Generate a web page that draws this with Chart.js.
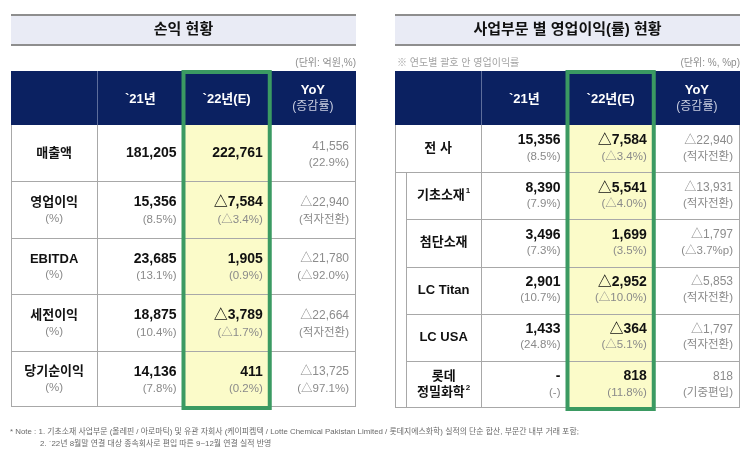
<!DOCTYPE html>
<html>
<head>
<meta charset="utf-8">
<script src="https://cdn.jsdelivr.net/npm/chart.js@4.4.0/dist/chart.umd.min.js"></script>
<style>
  body { margin: 0; background: #fff; width: 745px; height: 452px; overflow: hidden; position: relative; }
  #leftTable { position: absolute; left: 0; top: 0; }
  #rightTable { position: absolute; left: 373px; top: 0; }
</style>
</head>
<body>
<canvas id="leftTable" width="745" height="452"></canvas>
<canvas id="rightTable" width="372" height="420"></canvas>
<script>
// column headers (shared by both tables)
const colKeys = ['label', 'y2021', 'y2022', 'yoy'];
const colHeads = ['', '`21년', '`22년(E)', 'YoY'];
const colHeadSubs = ['', '', '', '(증감률)'];

// 손익 현황 (단위: 억원, %)
const leftRows = ['매출액', '영업이익', 'EBITDA', '세전이익', '당기순이익'];
const leftRowNotes = ['', '(%)', '(%)', '(%)', '(%)'];
const left2021 = [181205, 15356, 23685, 18875, 14136];
const left2021Pct = [null, 8.5, 13.1, 10.4, 7.8];
const left2022 = [222761, -7584, 1905, -3789, 411];
const left2022Pct = [null, -3.4, 0.9, -1.7, 0.2];
const leftYoy = [41556, -22940, -21780, -22664, -13725];
const leftYoyNotes = ['22.9%', '적자전환', '△92.0%', '적자전환', '△97.1%'];

// 사업부문 별 영업이익(률) 현황 (단위: %, %p)
const rightRows = ['전 사', '기초소재', '첨단소재', 'LC Titan', 'LC USA', '롯데 정밀화학'];
const rightRowLines = [['전 사'], ['기초소재'], ['첨단소재'], ['LC Titan'], ['LC USA'], ['롯데', '정밀화학']];
const rightRowSups = ['', '1', '', '', '', '2'];
const right2021 = [15356, 8390, 3496, 2901, 1433, null];
const right2021Pct = [8.5, 7.9, 7.3, 10.7, 24.8, null];
const right2022 = [-7584, -5541, 1699, -2952, -364, 818];
const right2022Pct = [-3.4, -4.0, 3.5, -10.0, -5.1, 11.8];
const rightYoy = [-22940, -13931, -1797, -5853, -1797, 818];
const rightYoyNotes = ['적자전환', '적자전환', '△3.7%p', '적자전환', '적자전환', '기중편입'];

const footnotes = [
    '* Note : 1. 기초소재 사업부문 (올레핀 / 아로마틱) 및 유관 자회사 (케이피켐텍 / Lotte Chemical Pakistan Limited / 롯데지에스화학) 실적의 단순 합산, 부문간 내부 거래 포함;',
    '2. `22년 8월말 연결 대상 종속회사로 편입 따른 9~12월 연결 실적 반영'
];

const FONT = '"Liberation Sans", Arial, "Noto Sans CJK KR", sans-serif';
const NAVY = '#0b2161';
const GREEN = '#3b9a62';

function fmtNum(v) {
    if (v === null) return '-';
    const s = Math.abs(v).toLocaleString('en-US');
    return v < 0 ? '△' + s : s;
}
function fmtPct(p) {
    if (p === null) return '(-)';
    return '(' + (p < 0 ? '△' : '') + Math.abs(p).toFixed(1) + '%)';
}

function hline(ctx, x0, x1, y) {
    ctx.beginPath(); ctx.moveTo(x0, Math.round(y) + 0.5); ctx.lineTo(x1, Math.round(y) + 0.5); ctx.stroke();
}
function vline(ctx, x, y0, y1) {
    ctx.beginPath(); ctx.moveTo(Math.round(x) + 0.5, y0); ctx.lineTo(Math.round(x) + 0.5, y1); ctx.stroke();
}

// text centred at x, with an optional superscript after it
function centerText(ctx, text, sup, x, y, font) {
    ctx.font = font;
    const w = ctx.measureText(text).width;
    ctx.font = 'bold 8px ' + FONT;
    const sw = sup ? ctx.measureText(sup).width + 1 : 0;
    const start = x - (w + sw) / 2;
    ctx.textAlign = 'left';
    ctx.font = font;
    ctx.fillText(text, start, y);
    if (sup) {
        ctx.font = 'bold 8px ' + FONT;
        ctx.fillText(sup, start + w + 1, y - 5);
    }
}

const tablePlugin = {
    id: 'tableDraw',
    beforeDatasetsDraw(chart, args, o) {
        const ctx = chart.ctx, a = chart.chartArea;
        const xs = chart.scales.x, ys = chart.scales.y;
        const nCol = xs.getLabels().length, nRow = ys.getLabels().length;
        const xe = i => xs.getPixelForValue(i - 0.5);
        const ye = i => ys.getPixelForValue(i - 0.5);
        const hTop = 71;
        ctx.save();
        ctx.textBaseline = 'middle';

        // title band
        ctx.fillStyle = '#e9ebf5';
        ctx.fillRect(a.left, 15, a.width, 30);
        ctx.fillStyle = '#8e8e8e';
        ctx.fillRect(a.left, 14, a.width, 2);
        ctx.fillRect(a.left, 44, a.width, 2);
        ctx.fillStyle = '#111';
        ctx.font = 'bold 15px ' + FONT;
        ctx.textAlign = 'center';
        ctx.fillText(o.title, (a.left + a.right) / 2, 30);

        // unit / note
        ctx.font = '10px ' + FONT;
        ctx.fillStyle = '#8d8d8d';
        ctx.textAlign = 'right';
        ctx.fillText(o.unit, a.right, 63);
        if (o.note) {
            ctx.textAlign = 'left';
            ctx.fillStyle = '#a3a3a3';
            ctx.fillText(o.note, a.left + 2, 63);
        }

        // header
        ctx.fillStyle = NAVY;
        ctx.fillRect(a.left, hTop, a.width, a.top - hTop);
        ctx.strokeStyle = '#5d6d9b';
        ctx.lineWidth = 1;
        for (let i = 1; i < nCol; i++) vline(ctx, xe(i), hTop, a.top);
        const hc = (hTop + a.top) / 2;
        for (let i = 1; i < nCol; i++) {
            const cx = xs.getPixelForValue(i);
            ctx.textAlign = 'center';
            ctx.fillStyle = '#fff';
            ctx.font = 'bold 13px ' + FONT;
            if (colHeadSubs[i]) {
                ctx.fillText(colHeads[i], cx, hc - 8);
                ctx.font = '12px ' + FONT;
                ctx.fillStyle = '#c9cee0';
                ctx.fillText(colHeadSubs[i], cx, hc + 9);
            } else {
                ctx.fillText(colHeads[i], cx, hc + 1);
            }
        }

        // highlighted column fill
        const h = o.highlight;
        ctx.fillStyle = '#fbfbc9';
        ctx.fillRect(xe(h), a.top, xe(h + 1) - xe(h), a.bottom - a.top);

        // grid
        ctx.strokeStyle = '#a8a8a8';
        for (let i = 1; i < nCol; i++) vline(ctx, xe(i), a.top, a.bottom);
        vline(ctx, a.left, a.top, a.bottom);
        vline(ctx, a.right - 1, a.top, a.bottom);
        hline(ctx, a.left, a.right, a.bottom - 1);
        for (let j = 1; j < nRow; j++) {
            const x0 = (o.indentFrom && j > o.indentFrom) ? a.left + o.indent : a.left;
            hline(ctx, x0, a.right, ye(j));
        }
        if (o.indentFrom) vline(ctx, a.left + o.indent, ye(o.indentFrom), a.bottom);

        // row labels
        const font = 'bold 13px "Liberation Sans", Arial, "Noto Sans CJK KR", sans-serif';
        for (let j = 0; j < nRow; j++) {
            const cy = ys.getPixelForValue(j);
            const x0 = (o.indentFrom && j >= o.indentFrom) ? a.left + o.indent : a.left;
            const cx = (x0 + xe(1)) / 2;
            const lines = o.rowLines[j];
            const note = o.rowNotes ? o.rowNotes[j] : '';
            const sup = o.rowSups ? o.rowSups[j] : '';
            ctx.fillStyle = '#111';
            if (lines.length === 2) {
                centerText(ctx, lines[0], '', cx, cy - 8, font);
                centerText(ctx, lines[1], sup, cx, cy + 8, font);
            } else if (note) {
                centerText(ctx, lines[0], sup, cx, cy - 7, font);
                ctx.fillStyle = '#8a8a8a';
                centerText(ctx, note, '', cx, cy + 9, '11.5px ' + FONT);
            } else {
                centerText(ctx, lines[0], sup, cx, cy, font);
            }
        }
        ctx.restore();
    },
    afterDatasetsDraw(chart, args, o) {
        const ctx = chart.ctx, a = chart.chartArea;
        const xs = chart.scales.x;
        const band = xs.getPixelForValue(1) - xs.getPixelForValue(0);
        ctx.save();
        ctx.textBaseline = 'middle';
        ctx.textAlign = 'right';
        chart.data.datasets.forEach((ds, di) => {
            const meta = chart.getDatasetMeta(di);
            meta.data.forEach((pt, i) => {
                const rx = pt.x + band / 2 - 7;
                const v = ds.values[i];
                let sub;
                if (ds.kind === 'yoy') sub = '(' + ds.notes[i] + ')';
                else if (v === null) sub = '(-)';
                else if (ds.pcts[i] === null) sub = '';
                else sub = fmtPct(ds.pcts[i]);
                const main = fmtNum(v);
                const mainY = sub ? pt.y - o.mainOff : pt.y;
                if (ds.kind === 'yoy') {
                    ctx.font = '12px ' + FONT;
                    ctx.fillStyle = '#8c8c8c';
                } else {
                    ctx.font = 'bold 14px ' + FONT;
                    ctx.fillStyle = '#111';
                }
                ctx.fillText(main, rx, mainY);
                if (sub) {
                    ctx.font = '11.5px ' + FONT;
                    ctx.fillStyle = '#8a8a8a';
                    ctx.fillText(sub, rx, pt.y + o.subOff);
                }
            });
        });

        // green frame around the estimate column
        const x0 = xs.getPixelForValue(o.highlight - 0.5), x1 = xs.getPixelForValue(o.highlight + 0.5);
        ctx.strokeStyle = GREEN;
        ctx.lineWidth = 4;
        ctx.strokeRect(x0, 72, x1 - x0, a.bottom + 1 - 72);

        // footnotes
        if (o.footnotes) {
            ctx.textAlign = 'left';
            ctx.font = '7.9px ' + FONT;
            ctx.fillStyle = '#6a6a6a';
            ctx.fillText(o.footnotes[0], 10, 432, 570);
            ctx.fillText(o.footnotes[1], 40, 444, 234);
        }
        ctx.restore();
    }
};

function makeDatasets(rows, v21, p21, v22, p22, yoy, yoyNotes) {
    const pts = key => rows.map(r => ({ x: key, y: r }));
    const base = { pointRadius: 0, pointHoverRadius: 0, hitRadius: 0 };
    return [
        Object.assign({ label: '`21년', data: pts('y2021'), kind: 'value', values: v21, pcts: p21 }, base),
        Object.assign({ label: '`22년(E)', data: pts('y2022'), kind: 'value', values: v22, pcts: p22 }, base),
        Object.assign({ label: 'YoY', data: pts('yoy'), kind: 'yoy', values: yoy, notes: yoyNotes }, base)
    ];
}

function makeTable(id, rows, datasets, padding, cfg) {
    const ctx = document.getElementById(id).getContext('2d');
    return new Chart(ctx, {
        type: 'scatter',
        data: { datasets: datasets },
        options: {
            responsive: false,
            animation: false,
            layout: { padding: padding },
            scales: {
                x: { type: 'category', labels: colKeys, offset: true, display: false },
                y: { type: 'category', labels: rows, offset: true, display: false }
            },
            plugins: {
                legend: { display: false },
                tooltip: { enabled: false },
                tableDraw: cfg
            }
        },
        plugins: [tablePlugin]
    });
}

makeTable('leftTable', leftRows,
    makeDatasets(leftRows, left2021, left2021Pct, left2022, left2022Pct, leftYoy, leftYoyNotes),
    { left: 11, right: 389, top: 125, bottom: 45 },
    {
        title: '손익 현황',
        unit: '(단위: 억원,%)',
        highlight: 2,
        rowLines: leftRows.map(r => [r]),
        rowNotes: leftRowNotes,
        rowSups: leftRows.map(() => ''),
        mainOff: 7, subOff: 10,
        footnotes: footnotes
    });

makeTable('rightTable', rightRows,
    makeDatasets(rightRows, right2021, right2021Pct, right2022, right2022Pct, rightYoy, rightYoyNotes),
    { left: 22, right: 5, top: 125, bottom: 12 },
    {
        title: '사업부문 별 영업이익(률) 현황',
        unit: '(단위: %, %p)',
        note: '※ 연도별 괄호 안 영업이익률',
        highlight: 2,
        rowLines: rightRowLines,
        rowSups: rightRowSups,
        indentFrom: 1, indent: 11,
        mainOff: 8, subOff: 8
    });
</script>
</body>
</html>
